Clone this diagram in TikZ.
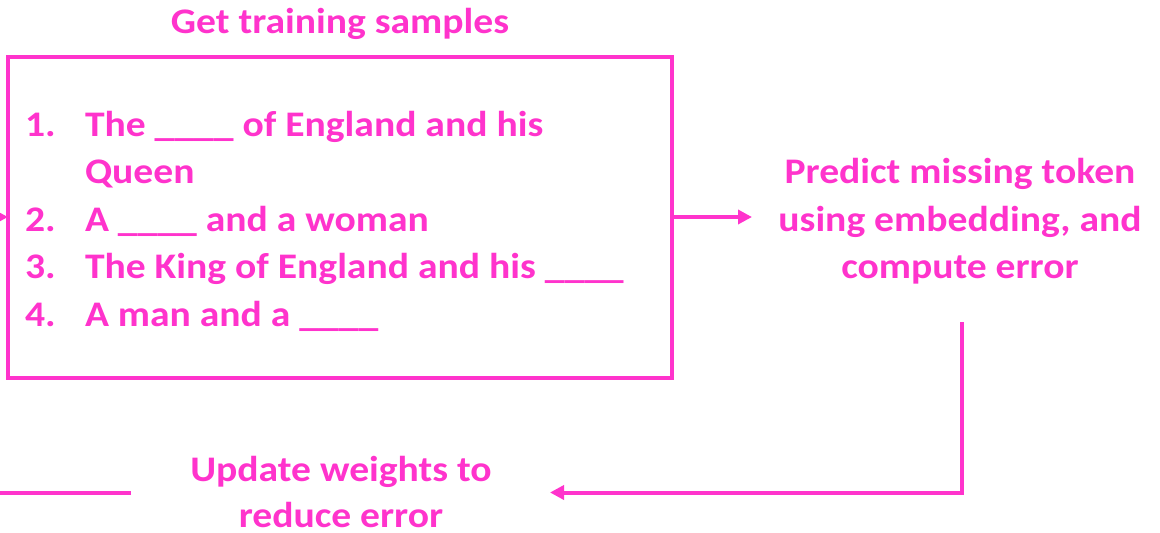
\documentclass[tikz,border=0pt]{standalone}
\usepackage{fontspec}
\setmainfont{Carlito}
\usetikzlibrary{arrows.meta}
\definecolor{pinkline}{HTML}{FF33CC}
% slightly widened lettering
\newcommand{\wideword}[1]{\scalebox{1.1}[1]{#1}}
\begin{document}
\begin{tikzpicture}[x=1pt,y=-1pt,
  every node/.style={inner sep=0pt,outer sep=0pt,text=pinkline,font=\fontsize{36}{47.5}\selectfont\bfseries},
  link/.style={draw=pinkline,line width=4pt},
  tip/.style={-{Triangle[length=14pt,width=14pt]}},
  listnum/.style={anchor=base west},
  listtxt/.style={anchor=base west},
  caption/.style={anchor=base}]
\useasboundingbox (0,0) rectangle (1160,533);
\clip (0,0) rectangle (1160,533);

% title and sample box
\node[caption] (title) at (340,33) {\wideword{Get training samples}};
\node[draw=pinkline,line width=4pt,minimum width=664pt,minimum height=321pt] (box) at (340,217.5) {};

% numbered samples
\node[listnum] (n1) at (25,136) {\wideword{1.}};
\node[listtxt] (t1) at (85,136) {\wideword{The \_\_\_\_ of England and his}};
\node[listtxt] (t1b) at (85,183.5) {\wideword{Queen}};
\node[listnum] (n2) at (25,231) {\wideword{2.}};
\node[listtxt] (t2) at (85,231) {\wideword{A \_\_\_\_ and a woman}};
\node[listnum] (n3) at (25,278.5) {\wideword{3.}};
\node[listtxt] (t3) at (85,278.5) {\wideword{The King of England and his \_\_\_\_}};
\node[listnum] (n4) at (25,326) {\wideword{4.}};
\node[listtxt] (t4) at (85,326) {\wideword{A man and a \_\_\_\_}};

% prediction step
\node[caption] (p1) at (960,183.5) {\wideword{Predict missing token}};
\node[caption] (p2) at (960,231) {\wideword{using embedding, and}};
\node[caption] (p3) at (960,278.5) {\wideword{compute error}};

% update step
\node[caption] (u1) at (341,481.5) {\wideword{Update weights to}};
\node[caption] (u2) at (341,527) {\wideword{reduce error}};

\coordinate (predout) at (962,322);
\coordinate (updin) at (550,492.5);
\coordinate (updout) at (131,492.5);
\coordinate (loopdown) at (-40,492.5);
\coordinate (loopup) at (-40,217);

% connectors
\draw[link,tip] (box.east |- 0,217) -- (752,217);
\draw[link,tip] (predout) -- (predout |- updin) -- (updin);
\draw[link,tip] (updout) -- (loopdown) -- (loopup) -- (box.west |- loopup);
\end{tikzpicture}
\end{document}
